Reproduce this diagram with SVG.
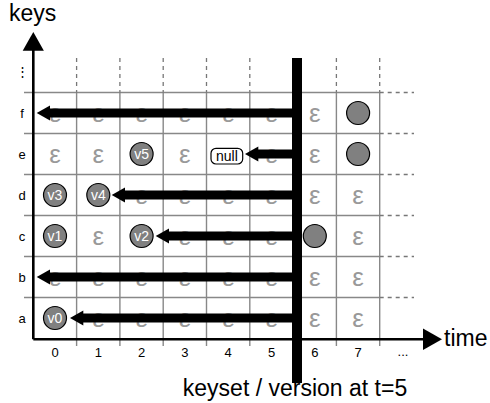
<svg xmlns="http://www.w3.org/2000/svg" width="490" height="403" viewBox="0 0 490 403">
<style>
.grid{stroke:#888;stroke-width:1.4;fill:none}
.dash{stroke:#777;stroke-width:1.3;stroke-dasharray:4 4;fill:none}
.axis{stroke:#000;stroke-width:2.6;fill:none}
.eps{font-family:"Liberation Sans",Arial,sans-serif;font-size:26px;fill:#999;text-anchor:middle}
.lbl{font-family:"Liberation Sans",Arial,sans-serif;font-size:13px;fill:#000;text-anchor:middle}
.big{font-family:"Liberation Sans",Arial,sans-serif;font-size:23px;fill:#000}
.node circle{fill:#808080;stroke:#000;stroke-width:1.2}
.node text{font-family:"Liberation Sans",Arial,sans-serif;font-size:14px;fill:#fff;text-anchor:middle}
.arr{stroke:#000;stroke-width:9;fill:none}
.head{fill:#000}
</style>
<rect width="490" height="403" fill="#fff"/>
<g id="grid">
<path class="grid" d="M24 92.5H379.7M24 133.5H379.7M24 174.5H379.7M24 215.5H379.7M24 256.5H379.7M24 297.5H379.7"/>
<path class="grid" d="M76.6 92.5V346M119.9 92.5V346M163.2 92.5V346M206.5 92.5V346M249.8 92.5V346M293.1 92.5V346M336.4 92.5V346M379.7 92.5V346"/>
<path class="dash" d="M76.6 58V92.5M119.9 58V92.5M163.2 58V92.5M206.5 58V92.5M249.8 58V92.5M336.4 58V92.5M379.7 58V92.5"/>
<path class="dash" d="M379.7 92.5H414M379.7 133.5H414M379.7 174.5H414M379.7 215.5H414M379.7 256.5H414M379.7 297.5H414"/>
</g>
<g id="axes">
<path class="axis" d="M33.3 339.3V48M33.3 339.3H425"/>
<polygon class="head" points="22.7,50.7 33.3,32 43.9,50.7"/>
<polygon class="head" points="423,328.5 442,339.3 423,350"/>
<text class="big" x="9" y="21">keys</text>
<text class="big" x="444" y="346">time</text>
</g>
<g id="row-labels">
<text class="lbl" x="22" y="118">f</text>
<text class="lbl" x="22" y="159">e</text>
<text class="lbl" x="22" y="200">d</text>
<text class="lbl" x="22" y="241">c</text>
<text class="lbl" x="22" y="282">b</text>
<text class="lbl" x="22" y="323">a</text>
<text class="lbl" x="22" y="76" font-size="12">⋮</text>
</g>
<g id="col-labels">
<text class="lbl" x="55" y="357">0</text>
<text class="lbl" x="98.3" y="357">1</text>
<text class="lbl" x="141.6" y="357">2</text>
<text class="lbl" x="184.9" y="357">3</text>
<text class="lbl" x="228.2" y="357">4</text>
<text class="lbl" x="271.5" y="357">5</text>
<text class="lbl" x="314.8" y="357">6</text>
<text class="lbl" x="358.1" y="357">7</text>
<text class="lbl" x="403" y="356" font-size="11">...</text>
</g>
<g id="epsilons">
<text class="eps" x="55" y="122">ε</text><text class="eps" x="98.3" y="122">ε</text><text class="eps" x="141.6" y="122">ε</text><text class="eps" x="184.9" y="122">ε</text><text class="eps" x="228.2" y="122">ε</text><text class="eps" x="271.5" y="122">ε</text><text class="eps" x="314.8" y="122">ε</text>
<text class="eps" x="55" y="163">ε</text><text class="eps" x="98.3" y="163">ε</text><text class="eps" x="184.9" y="163">ε</text><text class="eps" x="271.5" y="163">ε</text><text class="eps" x="314.8" y="163">ε</text>
<text class="eps" x="141.6" y="204">ε</text><text class="eps" x="184.9" y="204">ε</text><text class="eps" x="228.2" y="204">ε</text><text class="eps" x="271.5" y="204">ε</text><text class="eps" x="314.8" y="204">ε</text><text class="eps" x="358.1" y="204">ε</text>
<text class="eps" x="98.3" y="245">ε</text><text class="eps" x="184.9" y="245">ε</text><text class="eps" x="228.2" y="245">ε</text><text class="eps" x="271.5" y="245">ε</text><text class="eps" x="358.1" y="245">ε</text>
<text class="eps" x="55" y="286">ε</text><text class="eps" x="98.3" y="286">ε</text><text class="eps" x="141.6" y="286">ε</text><text class="eps" x="184.9" y="286">ε</text><text class="eps" x="228.2" y="286">ε</text><text class="eps" x="271.5" y="286">ε</text><text class="eps" x="314.8" y="286">ε</text><text class="eps" x="358.1" y="286">ε</text>
<text class="eps" x="98.3" y="327">ε</text><text class="eps" x="141.6" y="327">ε</text><text class="eps" x="184.9" y="327">ε</text><text class="eps" x="228.2" y="327">ε</text><text class="eps" x="271.5" y="327">ε</text><text class="eps" x="314.8" y="327">ε</text><text class="eps" x="358.1" y="327">ε</text>
</g>
<g id="n-f7" class="node"><circle cx="358.1" cy="113" r="11.5"/></g>
<g id="n-e7" class="node"><circle cx="358.1" cy="154" r="11.5"/></g>
<g id="n-v5" class="node"><circle cx="141.6" cy="154" r="11.5"/><text x="141.6" y="159">v5</text></g>
<g id="n-v3" class="node"><circle cx="55" cy="195" r="11.5"/><text x="55" y="200">v3</text></g>
<g id="n-v4" class="node"><circle cx="98.3" cy="195" r="11.5"/><text x="98.3" y="200">v4</text></g>
<g id="n-v1" class="node"><circle cx="55" cy="236" r="11.5"/><text x="55" y="241">v1</text></g>
<g id="n-v2" class="node"><circle cx="141.6" cy="236" r="11.5"/><text x="141.6" y="241">v2</text></g>
<g id="n-c6" class="node"><circle cx="314.8" cy="236" r="11.5"/></g>
<g id="n-v0" class="node"><circle cx="55" cy="318" r="11.5"/><text x="55" y="323">v0</text></g>
<g id="n-null"><rect x="211" y="148.3" width="31.7" height="15.7" rx="5" fill="#fff" stroke="#000" stroke-width="1.2"/><text x="226.9" y="160.5" font-family="Liberation Sans, Arial, sans-serif" font-size="14" text-anchor="middle">null</text></g>
<g id="connectors">
<path class="arr" d="M295 113H49M295 154H257M295 195H124M295 236H168M295 277H49M295 318H82"/>
<polygon class="head" points="36.7,113 50,105.5 50,120.5"/>
<polygon class="head" points="245,154 258.3,146.5 258.3,161.5"/>
<polygon class="head" points="111.7,195 125,187.5 125,202.5"/>
<polygon class="head" points="155.7,236 169,228.5 169,243.5"/>
<polygon class="head" points="36.7,277 50,269.5 50,284.5"/>
<polygon class="head" points="70,318 83.3,310.5 83.3,325.5"/>
</g>
<g id="version-bar">
<rect x="292" y="58" width="10" height="325" fill="#000"/>
<text class="big" x="295" y="396" text-anchor="middle">keyset / version at t=5</text>
</g>
</svg>
